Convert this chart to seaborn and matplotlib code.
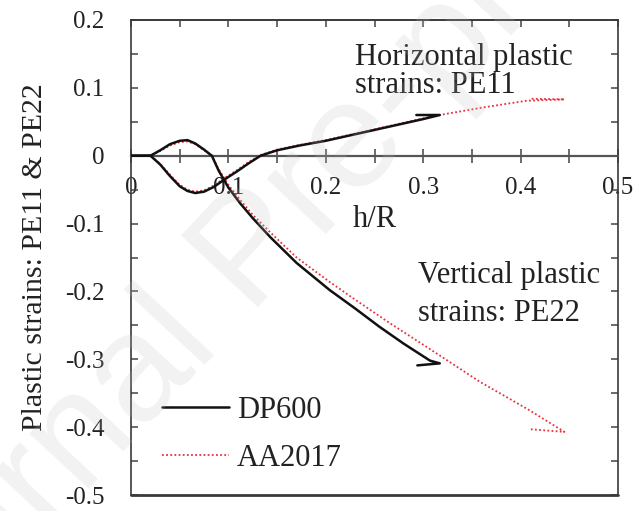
import matplotlib
matplotlib.use("Agg")
import matplotlib.pyplot as plt
from matplotlib.ticker import MultipleLocator, FixedLocator
import seaborn as sns
import pandas as pd

# ---- data ----
h_dp_pe11 = [0, 0.02, 0.03, 0.04, 0.05, 0.058, 0.066, 0.075, 0.085, 0.095, 0.11, 0.12, 0.133, 0.15, 0.173, 0.2, 0.25, 0.3, 0.317, 0.293]
dp_pe11 = [0, 0, -0.013, -0.030, -0.045, -0.052, -0.055, -0.053, -0.046, -0.036, -0.022, -0.012, 0.0, 0.008, 0.015, 0.022, 0.038, 0.054, 0.060, 0.060]

h_dp_pe22 = [0, 0.02, 0.03, 0.04, 0.05, 0.058, 0.066, 0.075, 0.083, 0.09, 0.1, 0.112, 0.125, 0.143, 0.17, 0.204, 0.23, 0.255, 0.28, 0.307, 0.317, 0.294]
dp_pe22 = [0, 0, 0.008, 0.017, 0.022, 0.023, 0.018, 0.009, 0.0, -0.022, -0.047, -0.07, -0.092, -0.12, -0.158, -0.198, -0.225, -0.252, -0.277, -0.302, -0.306, -0.309]

h_aa_pe11 = [0, 0.02, 0.03, 0.04, 0.05, 0.058, 0.066, 0.075, 0.085, 0.095, 0.11, 0.12, 0.133, 0.15, 0.173, 0.2, 0.25, 0.3, 0.317, 0.361, 0.406, 0.445, 0.41]
aa_pe11 = [0, 0, -0.012, -0.028, -0.043, -0.050, -0.053, -0.051, -0.044, -0.034, -0.020, -0.010, 0.001, 0.009, 0.016, 0.023, 0.039, 0.055, 0.060, 0.071, 0.081, 0.083, 0.084]

h_aa_pe22 = [0, 0.02, 0.03, 0.04, 0.05, 0.058, 0.066, 0.075, 0.083, 0.09, 0.1, 0.112, 0.125, 0.143, 0.17, 0.204, 0.23, 0.266, 0.307, 0.358, 0.409, 0.445, 0.409]
aa_pe22 = [0, 0, 0.007, 0.015, 0.020, 0.021, 0.017, 0.008, 0.0, -0.02, -0.043, -0.065, -0.087, -0.113, -0.150, -0.186, -0.212, -0.247, -0.285, -0.333, -0.375, -0.407, -0.403]

materials = ["DP600", "AA2017"]
x_ticks = [0, 0.1, 0.2, 0.3, 0.4, 0.5]
x_tick_labels = ["0", "0.1", "0.2", "0.3", "0.4", "0.5"]
y_ticks = [0.2, 0.1, 0, -0.1, -0.2, -0.3, -0.4, -0.5]
y_tick_labels = ["0.2", "0.1", "0", "-0.1", "-0.2", "-0.3", "-0.4", "-0.5"]
x_label = "h/R"
y_label = "Plastic strains: PE11 & PE22"
note_h = ["Horizontal plastic", "strains: PE11"]
note_v = ["Vertical plastic", "strains: PE22"]
watermark = "Journal Pre-proof"

# ---- styling ----
sns.set_style("ticks")
plt.rcParams["font.family"] = ["Liberation Serif", "DejaVu Serif"]
plt.rcParams["axes.unicode_minus"] = False

fig = plt.figure(figsize=(6.34, 5.11), dpi=100)
ax = fig.add_axes([131 / 634, 1 - 495 / 511, (618 - 131) / 634, (495 - 20) / 511])

black = "#111111"
red = "#e8303a"
txt = "#222222"


def draw(hs, vs, color, ls, lw, z, label=None):
    df = pd.DataFrame({"h": hs, "v": vs})
    sns.lineplot(data=df, x="h", y="v", ax=ax, sort=False, estimator=None,
                 color=color, linestyle=ls, linewidth=lw, zorder=z,
                 label=label, legend=False)


draw(h_dp_pe11, dp_pe11, black, "-", 1.8, 4, materials[0])
draw(h_dp_pe22, dp_pe22, black, "-", 1.8, 4)
draw(h_aa_pe11, aa_pe11, red, (0, (1, 1.3)), 1.3, 3, materials[1])
draw(h_aa_pe22, aa_pe22, red, (0, (1, 1.3)), 1.3, 3)

ax.set_xlim(0, 0.5)
ax.set_ylim(-0.5, 0.2)

spine_c = "#3a3a3a"
for s in ax.spines.values():
    s.set_color(spine_c)
    s.set_linewidth(1.2)
ax.spines["bottom"].set_position(("data", 0))
ax.spines["bottom"].set_color("#555555")
ax.spines["bottom"].set_linewidth(1.6)
ax.axhline(-0.5, color=spine_c, lw=2.0, clip_on=False, zorder=5)

ax.xaxis.set_major_locator(FixedLocator(x_ticks))
ax.set_xticklabels(x_tick_labels)
ax.xaxis.set_minor_locator(MultipleLocator(0.05))
ax.yaxis.set_major_locator(FixedLocator(y_ticks))
ax.set_yticklabels(y_tick_labels)
ax.yaxis.set_minor_locator(MultipleLocator(0.05))

ax.tick_params(axis="x", which="both", direction="inout", length=10, width=1.1,
               color="#444444", top=False, labelsize=18, pad=10, labelcolor=txt)
ax.tick_params(axis="y", which="both", direction="in", length=5, width=1.1,
               color="#444444", left=True, right=True, labelsize=18, pad=19,
               labelcolor=txt)

sec = ax.secondary_xaxis("top")
sec.xaxis.set_major_locator(MultipleLocator(0.05))
sec.tick_params(direction="in", length=5, width=1.1, color="#444444", labelsize=0)
sec.set_xticklabels([])
sec.spines["top"].set_color(spine_c)
sec.spines["top"].set_linewidth(1.2)

ax.set_xlabel(x_label, fontsize=22, color=txt)
ax.xaxis.set_label_coords(0.5, 0.61)
ax.set_ylabel(y_label, fontsize=21.5, color=txt)
ax.yaxis.set_label_coords(-0.17, 0.5)

ax.text(0.2295, 0.134, note_h[0], fontsize=22, color=txt, ha="left", va="baseline")
ax.text(0.2295, 0.092, note_h[1], fontsize=22, color=txt, ha="left", va="baseline")
ax.text(0.295, -0.188, note_v[0], fontsize=22, color=txt, ha="left", va="baseline")
ax.text(0.295, -0.244, note_v[1], fontsize=22, color=txt, ha="left", va="baseline")

leg = ax.legend(loc="center left", bbox_to_anchor=(0.064, 0.128), frameon=False,
                fontsize=22, handlelength=2.2, handletextpad=0.25, labelspacing=0.62,
                borderpad=0, borderaxespad=0)
for t in leg.get_texts():
    t.set_color(txt)

fig.text(0.40, 0.50, watermark, rotation=47, fontsize=110, color="#bdbdbd", alpha=0.2,
         ha="center", va="center", family=["Liberation Sans"], zorder=20)

fig.savefig("out.png", dpi=100)
